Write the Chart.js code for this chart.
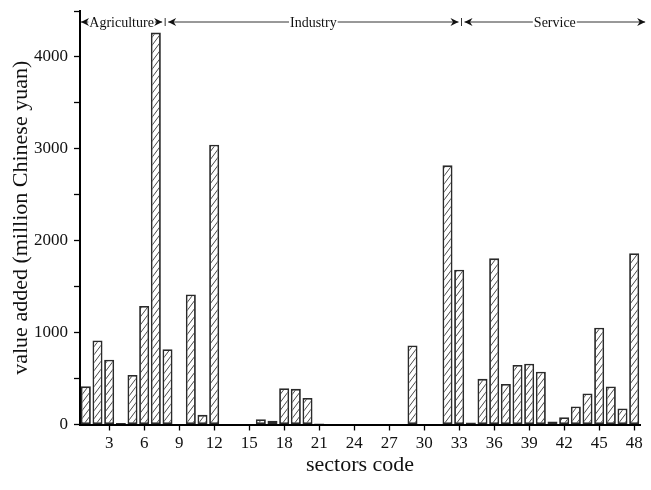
<!DOCTYPE html>
<html lang="en">
<head>
    <meta charset="UTF-8">
    <title>Value added by sector</title>
    <script src="https://cdn.jsdelivr.net/npm/chart.js@4.4.1/dist/chart.umd.min.js"></script>
</head>
<style>
    body {
        margin: 0;
        background: #fff;
    }

    .chart {
        width: 651px;
        height: 490px;
    }
</style>
<body>
    <div class="chart">
        <canvas id="myChart" width="651" height="490"></canvas>
    </div>

    <script>
        const sectors = [1, 2, 3, 4, 5, 6, 7, 8, 9, 10, 11, 12, 13, 14, 15, 16,
                         17, 18, 19, 20, 21, 22, 23, 24, 25, 26, 27, 28, 29, 30, 31, 32,
                         33, 34, 35, 36, 37, 38, 39, 40, 41, 42, 43, 44, 45, 46, 47, 48]

        const valueAdded = [415, 915, 705, 15, 540, 1290, 4265, 820, 0, 1415, 105, 3045, 0, 0, 0, 58,
                            40, 395, 388, 288, 10, 4, 0, 0, 0, 0, 0, 0, 860, 0, 6, 2820,
                            1685, 22, 497, 1808, 440, 647, 662, 575, 32, 80, 196, 338, 1053, 413, 174, 1865]

        const sectionNames  = ['Agriculture', 'Industry', 'Service']
        const sectionBounds = [0.5, 7.8, 33.2, 49.2]

        const serif = '"Liberation Serif", "DejaVu Serif", serif'

        // diagonal hatch fill, a bit steeper than 45 degrees
        const hatch = (() => {
            const c = document.createElement('canvas')
            c.width = 6
            c.height = 8
            const g = c.getContext('2d')
            g.fillStyle = '#fff'
            g.fillRect(0, 0, 6, 8)
            g.strokeStyle = '#333'
            g.lineWidth = 0.9
            g.beginPath()
            g.moveTo(-0.75, 9); g.lineTo(6.75, -1)
            g.moveTo(-0.75, 1); g.lineTo(0.75, -1)
            g.moveTo(5.25, 9); g.lineTo(6.75, 7)
            g.stroke()
            return g.createPattern(c, 'repeat')
        })()

        const arrow = (ctx, x, y, dir) => {
            ctx.beginPath()
            ctx.moveTo(x, y)
            ctx.lineTo(x - dir * 8, y - 4)
            ctx.lineTo(x - dir * 5.5, y)
            ctx.lineTo(x - dir * 8, y + 4)
            ctx.closePath()
            ctx.fill()
        }

        const sectionsPlugin = {
            id: 'sections',
            afterDraw(chart) {
                const ctx = chart.ctx
                const xs = chart.scales.x
                const px = (v) => xs.getPixelForValue(v - 1)
                const y = chart.chartArea.top + 11
                ctx.save()
                ctx.strokeStyle = '#333'
                ctx.fillStyle = '#111'
                ctx.lineWidth = 1
                ctx.font = '14px ' + serif
                ctx.textAlign = 'center'
                ctx.textBaseline = 'middle'
                sectionNames.forEach((name, i) => {
                    const x0 = px(sectionBounds[i]) + (i > 0 ? 3 : 1)
                    const x1 = px(sectionBounds[i + 1]) - 3
                    const mid = (x0 + x1) / 2
                    const half = ctx.measureText(name).width / 2 + 1
                    ctx.beginPath()
                    ctx.moveTo(x0, y); ctx.lineTo(mid - half, y)
                    ctx.moveTo(mid + half, y); ctx.lineTo(x1, y)
                    ctx.stroke()
                    arrow(ctx, x0, y, -1)
                    arrow(ctx, x1, y, 1)
                    ctx.fillText(name, mid, y + 1)
                    if (i > 0) {
                        const xd = px(sectionBounds[i])
                        ctx.beginPath()
                        ctx.moveTo(xd, y - 4); ctx.lineTo(xd, y + 4)
                        ctx.stroke()
                    }
                })
                ctx.restore()
            }
        }

        const chart = new Chart('myChart', {
            type: 'bar',
            data: {
                labels: sectors,
                datasets: [{
                    data: valueAdded,
                    backgroundColor: hatch,
                    borderColor: '#2a2a2a',
                    borderWidth: (c) => (c.raw ? 1.8 : 0),
                    borderSkipped: false,
                    barPercentage: 0.86,
                    categoryPercentage: 1
                }]
            },
            options: {
                responsive: false,
                animation: false,
                layout: { padding: { top: 11, right: 11, left: 0, bottom: 0 } },
                plugins: {
                    legend: { display: false },
                    tooltip: { enabled: false }
                },
                scales: {
                    x: {
                        afterFit: (s) => { s.height = 65.5; s.paddingLeft = 0; s.paddingRight = 0 },
                        grid: {
                            offset: false,
                            drawOnChartArea: false,
                            drawTicks: true,
                            tickLength: 6,
                            tickWidth: 1.3,
                            tickColor: (c) => ((c.index + 1) % 3 === 0 ? '#000' : 'rgba(0,0,0,0)')
                        },
                        border: { color: '#000', width: 2 },
                        ticks: {
                            autoSkip: false,
                            maxRotation: 0,
                            padding: 3,
                            color: '#111',
                            font: { family: serif, size: 17 },
                            callback: (v, i) => ((i + 1) % 3 === 0 ? sectors[i] : '')
                        },
                        title: {
                            display: true,
                            text: 'sectors code',
                            color: '#111',
                            font: { family: serif, size: 22 },
                            padding: { top: 0, bottom: 12 }
                        }
                    },
                    y: {
                        min: 0,
                        max: 4500,
                        afterFit: (s) => { s.width = 80; s.paddingTop = 0; s.paddingBottom = 0 },
                        grid: {
                            drawOnChartArea: false,
                            drawTicks: true,
                            tickLength: 6,
                            tickWidth: 1.3,
                            tickColor: '#000'
                        },
                        border: { color: '#000', width: 2 },
                        ticks: {
                            stepSize: 500,
                            padding: 6,
                            color: '#111',
                            font: { family: serif, size: 17 },
                            callback: (v) => (v % 1000 === 0 ? v : '')
                        },
                        title: {
                            display: true,
                            text: 'value added (million Chinese yuan)',
                            color: '#111',
                            font: { family: serif, size: 22 },
                            padding: { top: 8, bottom: 0 }
                        }
                    }
                }
            },
            plugins: [sectionsPlugin]
        })
    </script>
</body>
</html>
